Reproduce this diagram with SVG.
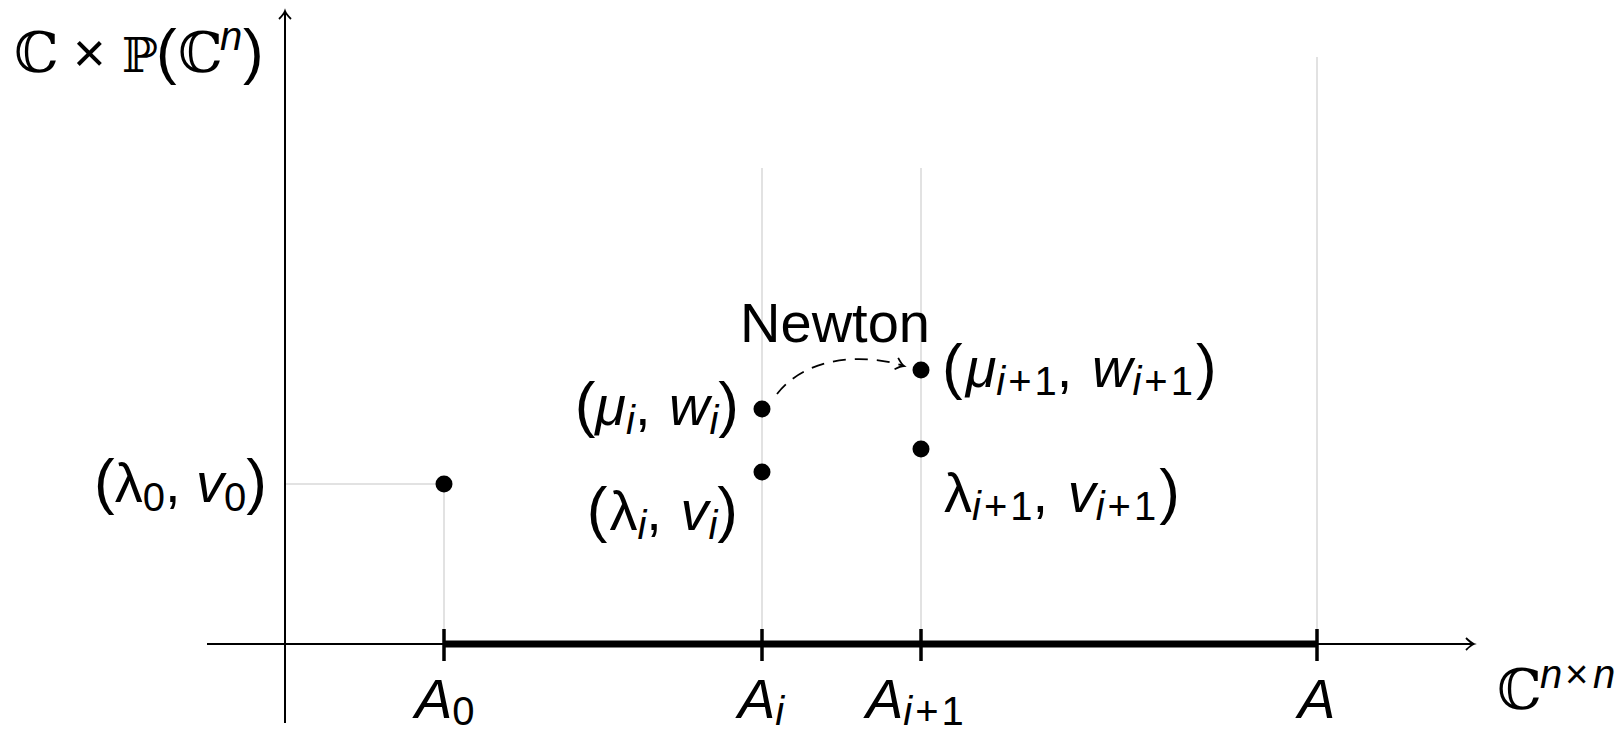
<svg xmlns="http://www.w3.org/2000/svg" width="1624" height="730" viewBox="0 0 1624 730">
<style>
.t{font-family:"Liberation Sans","DejaVu Sans",sans-serif;font-size:56px;fill:#000}
.ds{font-family:"DejaVu Serif",serif}
.it{font-style:italic}
.up{font-style:normal}
.sub{font-size:40px}
.p{font-size:62px}
.grid{stroke:#d9d9d9;stroke-width:1.5;fill:none}
.axis{stroke:#000;stroke-width:2;fill:none}
.tick{stroke:#000;stroke-width:3.5}
</style>
<defs>
<marker id="to" markerWidth="14" markerHeight="14" refX="0" refY="0" viewBox="-10 -7 12 14" orient="auto" markerUnits="userSpaceOnUse">
<path d="M-8,-6 Q-3,-1 0,0 Q-3,1 -8,6" fill="none" stroke="#000" stroke-width="1.8"/>
</marker>
</defs>
<g id="grid">
<line class="grid" x1="1317" y1="57" x2="1317" y2="644"/>
<line class="grid" x1="762" y1="168" x2="762" y2="644"/>
<line class="grid" x1="921" y1="168" x2="921" y2="644"/>
<line class="grid" x1="444" y1="484" x2="444" y2="644"/>
<line class="grid" x1="285" y1="484" x2="444" y2="484"/>
</g>
<g id="axes">
<line class="axis" x1="207" y1="644" x2="1474" y2="644" marker-end="url(#to)"/>
<line class="axis" x1="285" y1="723" x2="285" y2="11" marker-end="url(#to)"/>
<line x1="444" y1="644" x2="1317" y2="644" stroke="#000" stroke-width="7"/>
<line class="tick" x1="444" y1="629" x2="444" y2="661"/>
<line class="tick" x1="762" y1="629" x2="762" y2="661"/>
<line class="tick" x1="921" y1="629" x2="921" y2="661"/>
<line class="tick" x1="1317" y1="629" x2="1317" y2="661"/>
</g>
<g id="axis-labels">
<text class="t" y="72" font-size="53"><tspan class="ds" x="14">ℂ</tspan><tspan x="73">×</tspan><tspan class="ds" x="122" font-size="48">ℙ</tspan><tspan class="p" x="156" font-size="60">(</tspan><tspan class="ds" x="178">ℂ</tspan><tspan class="it sub" x="220" dy="-22" font-size="38">n</tspan><tspan class="p" x="243" dy="22" font-size="60">)</tspan></text>
<text class="t" y="709" font-size="53"><tspan class="ds" x="1497">ℂ</tspan><tspan class="it sub" x="1540" dy="-21">n</tspan><tspan class="sub" x="1565">×</tspan><tspan class="it sub" x="1593">n</tspan></text>
<text class="t it" x="415" y="718">A<tspan class="sub up" dy="7">0</tspan></text>
<text class="t it" x="738" y="718">A<tspan class="sub" dy="7">i</tspan></text>
<text class="t it" x="866" y="718">A<tspan class="sub" dy="7">i<tspan class="up" dx="3">+</tspan><tspan class="up" dx="3">1</tspan></tspan></text>
<text class="t it" x="1298" y="718">A</text>
</g>
<g id="node-l0">
<circle cx="444" cy="484" r="8.5"/>
<text class="t" x="94" y="502"><tspan class="p">(</tspan>λ<tspan class="sub" dy="9">0</tspan><tspan dy="-9">, </tspan><tspan class="it">v</tspan><tspan class="sub" dy="9">0</tspan><tspan class="p" dy="-9">)</tspan></text>
</g>
<g id="node-mi">
<circle cx="762" cy="409" r="8.5"/>
<text class="t" x="739" y="425" text-anchor="end"><tspan class="p">(</tspan><tspan class="it">μ</tspan><tspan class="sub it" dy="9">i</tspan><tspan dy="-9">, </tspan><tspan class="it" dx="3">w</tspan><tspan class="sub it" dy="9">i</tspan><tspan class="p" dy="-9">)</tspan></text>
</g>
<g id="node-li">
<circle cx="762" cy="472" r="8.5"/>
<text class="t" x="738" y="530" text-anchor="end"><tspan class="p">(</tspan><tspan dx="2">λ</tspan><tspan class="sub it" dy="9">i</tspan><tspan dy="-9">, </tspan><tspan class="it" dx="3">v</tspan><tspan class="sub it" dy="9">i</tspan><tspan class="p" dy="-9">)</tspan></text>
</g>
<g id="node-mi1">
<circle cx="921" cy="370" r="8.5"/>
<text class="t" x="942" y="387"><tspan class="p">(</tspan><tspan class="it" dx="3">μ</tspan><tspan class="sub" dy="8"><tspan class="it">i</tspan><tspan dx="3">+</tspan><tspan dx="3">1</tspan></tspan><tspan dy="-8">, </tspan><tspan class="it" dx="4">w</tspan><tspan class="sub" dy="8"><tspan class="it">i</tspan><tspan dx="3">+</tspan><tspan dx="3">1</tspan></tspan><tspan class="p" dy="-8" dx="3">)</tspan></text>
</g>
<g id="node-li1">
<circle cx="921" cy="449" r="8.5"/>
<text class="t" x="944" y="512">λ<tspan class="sub" dy="8"><tspan class="it">i</tspan><tspan dx="3">+</tspan><tspan dx="3">1</tspan></tspan><tspan dy="-8">, </tspan><tspan class="it" dx="4">v</tspan><tspan class="sub" dy="8"><tspan class="it">i</tspan><tspan dx="3">+</tspan><tspan dx="3">1</tspan></tspan><tspan class="p" dy="-8" dx="3">)</tspan></text>
</g>
<g id="connectors">
<path d="M777,394 C805,358 860,352 904,366" fill="none" stroke="#000" stroke-width="1.8" stroke-dasharray="13,9" marker-end="url(#to)"/>
<text class="t" x="835" y="342" text-anchor="middle" font-size="51">Newton</text>
</g>
</svg>
